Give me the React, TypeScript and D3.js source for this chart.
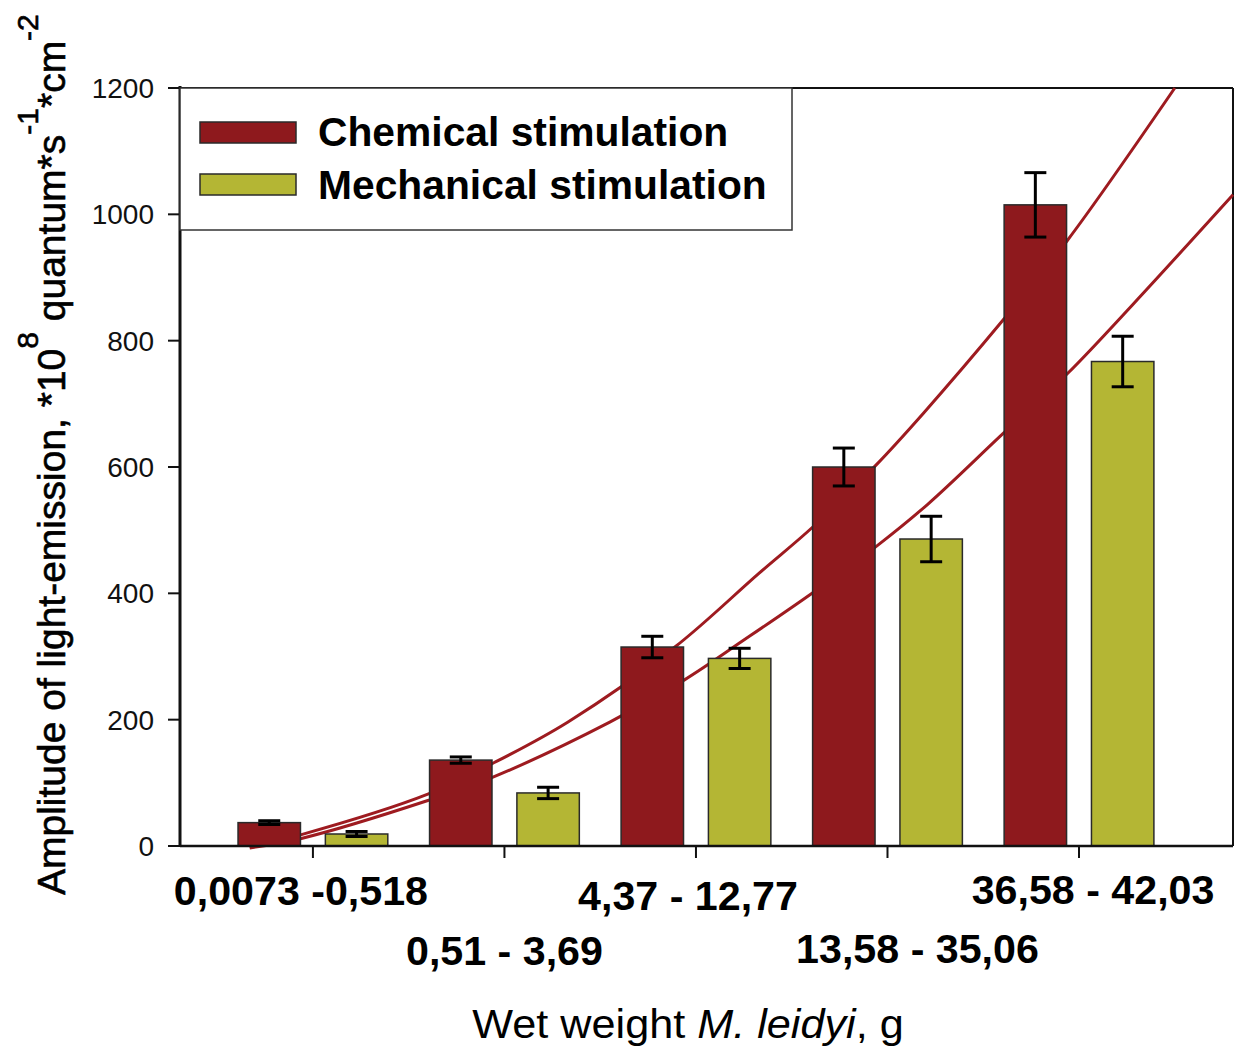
import React from 'react';
import * as d3 from 'd3';

const categories = ['0,0073 -0,518', '0,51 - 3,69', '4,37 - 12,77', '13,58 - 35,06', '36,58 - 42,03'];
const chemical = [37, 136, 315, 600, 1015];
const chemicalErr = [3, 5, 17, 30, 51];
const mechanical = [19, 84, 297, 486, 767];
const mechanicalErr = [4, 9, 16, 36, 40];
const yTicks = [0, 200, 400, 600, 800, 1000, 1200];

// trend lines (x in category index units)
const chemTrendX = [-0.33, -0.06, 0.6, 0.94, 1.33, 1.89, 2.33, 2.61, 2.94, 3.19, 3.61, 3.94, 4.5];
const chemTrendY = [-2, 18, 82, 131, 196, 315, 432, 505, 603, 686, 835, 959, 1200];
const mechTrendX = [-0.33, -0.06, 0.6, 0.94, 1.55, 1.94, 2.25, 2.61, 2.94, 3.21, 3.6, 3.94, 4.28, 4.804];
const mechTrendY = [-3, 12, 72, 109, 196, 263, 326, 401, 474, 541, 652, 748, 857, 1031];

// label placement (layout only)
const labelDx = [-12, 0, -8, 30, 14];
const labelBase = [905, 965, 910, 963, 904];

const W = 1235;
const H = 1046;
const CHEM = '#8e191d';
const MECH = '#b4b634';
const TREND = '#9e1b20';
const FONT = '"Liberation Sans", Arial, sans-serif';

const x = d3.scaleLinear().domain([-0.694, 4.804]).range([180, 1233]);
const y = d3.scaleLinear().domain([0, 1200]).range([846, 88]);
const barOff = 0.228;
const barW = x(0.326) - x(0);

const line = d3.line<[number, number]>()
  .x(d => x(d[0]))
  .y(d => y(d[1]))
  .curve(d3.curveCatmullRom.alpha(0.5));

const chemPath = line(chemTrendX.map((v, i) => [v, chemTrendY[i]])) || '';
const mechPath = line(mechTrendX.map((v, i) => [v, mechTrendY[i]])) || '';

const SText: React.FC<{ x: number; y: number; sx?: number; children: React.ReactNode } & React.SVGProps<SVGTextElement>> = ({ x, y, sx = 1, children, ...rest }) => (
  <g transform={`translate(${x},${y}) scale(${sx},1)`}>
    <text {...rest}>{children}</text>
  </g>
);

const App: React.FC = () => {
  const series = [
    { vals: chemical, err: chemicalErr, off: -barOff, color: CHEM },
    { vals: mechanical, err: mechanicalErr, off: barOff, color: MECH },
  ];

  return (
    <svg width={W} height={H} style={{ position: 'absolute', left: 0, top: 0, background: '#fff' }} fontFamily={FONT}>
      {/* frame */}
      <line x1={180} x2={1233} y1={88} y2={88} stroke="#111" strokeWidth={2} />
      <line x1={1233} x2={1233} y1={88} y2={846} stroke="#111" strokeWidth={2} />

      {/* trend lines */}
      <path d={chemPath} fill="none" stroke={TREND} strokeWidth={3} />
      <path d={mechPath} fill="none" stroke={TREND} strokeWidth={3} />

      {/* bars */}
      {series.map((s, si) => (
        <g key={si}>
          {s.vals.map((v, i) => {
            const cx = x(i + s.off);
            return (
              <rect key={i} x={cx - barW / 2} y={y(v)} width={barW} height={y(0) - y(v)}
                fill={s.color} stroke="#2a2a2a" strokeWidth={1.5} />
            );
          })}
          {s.vals.map((v, i) => {
            const cx = x(i + s.off);
            const top = y(v + s.err[i]);
            const bot = y(v - s.err[i]);
            return (
              <g key={'e' + i} stroke="#000" strokeWidth={3}>
                <line x1={cx} x2={cx} y1={top} y2={bot} />
                <line x1={cx - 11} x2={cx + 11} y1={top} y2={top} />
                <line x1={cx - 11} x2={cx + 11} y1={bot} y2={bot} />
              </g>
            );
          })}
        </g>
      ))}

      {/* axes */}
      <line x1={180} x2={1233} y1={y(0)} y2={y(0)} stroke="#111" strokeWidth={2.5} />
      <line x1={180} x2={180} y1={86} y2={y(0) + 1} stroke="#111" strokeWidth={3} />
      {yTicks.map(t => (
        <g key={t}>
          <line x1={168} x2={180} y1={y(t)} y2={y(t)} stroke="#111" strokeWidth={2} />
          <text x={154} y={y(t) + 10} fontSize={28} textAnchor="end" fill="#111">{t}</text>
        </g>
      ))}
      {categories.map((c, i) => (
        <g key={c}>
          <line x1={x(i)} x2={x(i)} y1={y(0)} y2={y(0) + 12} stroke="#111" strokeWidth={2} />
          <SText x={x(i) + labelDx[i]} y={labelBase[i]} sx={1.03} fontSize={40} fontWeight="bold" textAnchor="middle" fill="#000">{c}</SText>
        </g>
      ))}

      {/* axis titles */}
      <SText x={688} y={1038} sx={1.08} fontSize={40} textAnchor="middle" fill="#000">
        Wet weight <tspan fontStyle="italic">M. leidyi</tspan>, g
      </SText>
      <text transform="translate(65,895) rotate(-90)" fontSize={39} fill="#000" stroke="#000" strokeWidth={0.6}>
        Amplitude of light-emission, *10<tspan fontSize={30} dy={-27}>8</tspan>
        <tspan dy={27}> quantum*s</tspan><tspan fontSize={30} dy={-27}>-1</tspan>
        <tspan dy={27}>*cm</tspan><tspan fontSize={30} dy={-27}>-2</tspan>
      </text>

      {/* legend */}
      <rect x={180} y={88} width={612} height={142} fill="#fff" stroke="#333" strokeWidth={1.5} />
      <rect x={200} y={122} width={96} height={21} fill={CHEM} stroke="#2a2a2a" strokeWidth={1.5} />
      <rect x={200} y={174} width={96} height={21} fill={MECH} stroke="#2a2a2a" strokeWidth={1.5} />
      <SText x={318} y={146} sx={1.02} fontSize={40} fontWeight="bold" fill="#000">Chemical stimulation</SText>
      <SText x={318} y={199} sx={1.02} fontSize={40} fontWeight="bold" fill="#000">Mechanical stimulation</SText>
    </svg>
  );
};

export default App;
